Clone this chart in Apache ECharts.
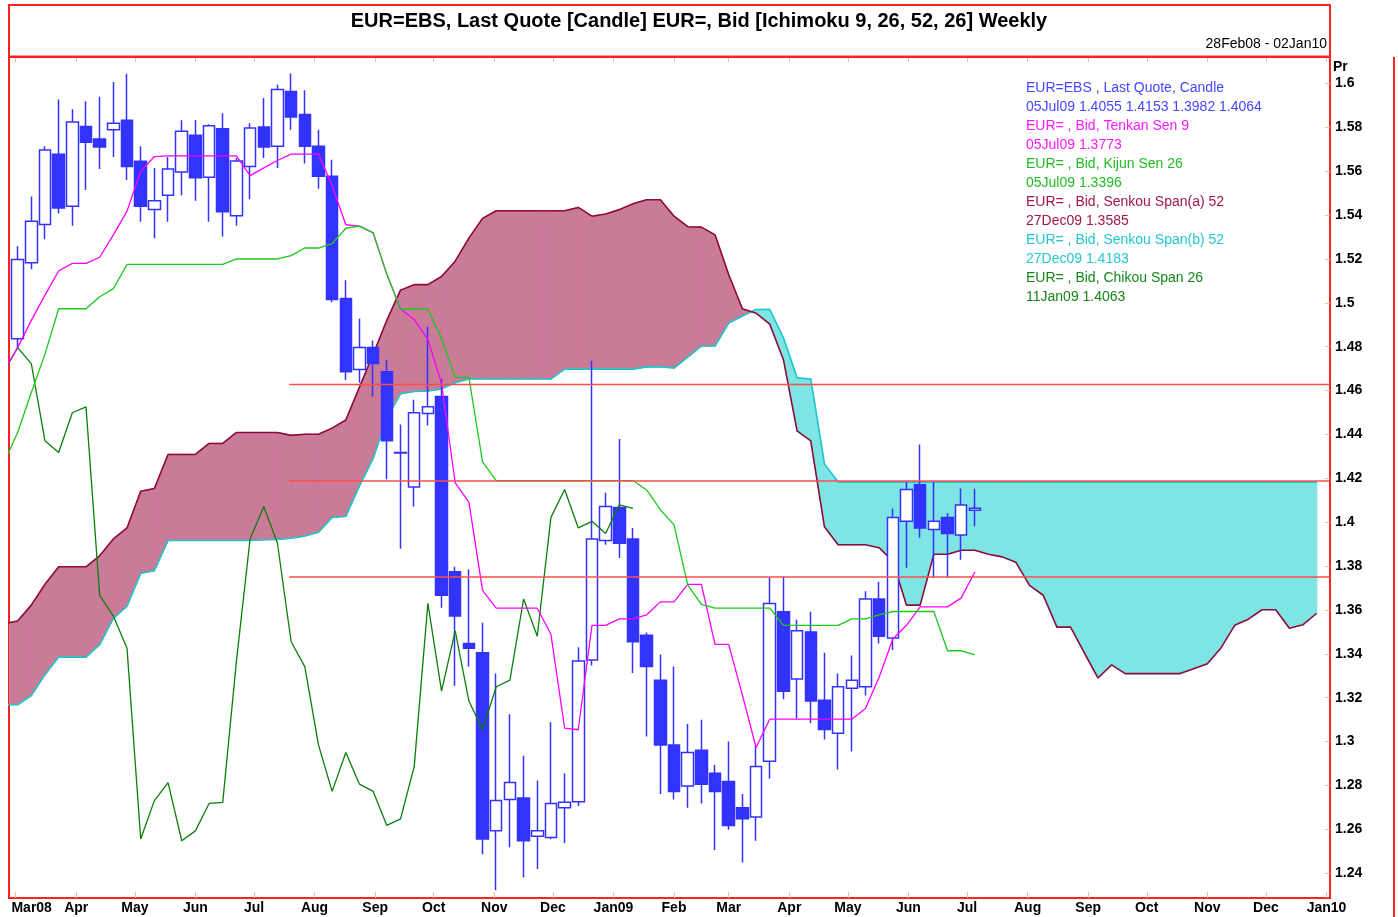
<!DOCTYPE html>
<html>
<head>
<meta charset="utf-8">
<title>EUR Ichimoku Weekly</title>
<script src="https://cdn.jsdelivr.net/npm/echarts@6.0.0/dist/echarts.min.js"></script>
<style>
html, body { margin: 0; padding: 0; background: #ffffff; }
#chart { width: 1398px; height: 917px; }
</style>
</head>
<body>
<div id="chart"></div>
<script>
// ---------------- data ----------------
// Weekly dates: index 0 = Sunday 24 Feb 2008 (week k = -1), 97 weeks up to 27 Dec 2009
const firstWeek = [2008, 1, 24];
const weekCount = 97;

// Candles k = 0 .. 70 (02Mar08 .. 05Jul09)
const candleOpen = [
 1.4836, 1.5183, 1.5357, 1.5677, 1.5440, 1.5804, 1.5747, 1.5789, 1.5832, 1.5645,
 1.5425, 1.5490, 1.5597, 1.5764, 1.5572, 1.5794, 1.5397, 1.5622, 1.5802, 1.5714,
 1.5964, 1.5859, 1.5714, 1.5577, 1.5020, 1.4696, 1.4796, 1.4686, 1.4316, 1.4161,
 1.4496, 1.4573, 1.3774, 1.3447, 1.3405, 1.2593, 1.2736, 1.2743, 1.2568, 1.2563,
 1.2698, 1.2726, 1.3372, 1.3917, 1.4067, 1.3924, 1.3485, 1.3280, 1.2985, 1.2798,
 1.2960, 1.2856, 1.2818, 1.2698, 1.2656, 1.2910, 1.3592, 1.3285, 1.3500, 1.3188,
 1.3038, 1.3243, 1.3250, 1.3650, 1.3472, 1.4004, 1.4171, 1.3967, 1.4022, 1.3942,
 1.4055];
const candleHigh = [
 1.5258, 1.5485, 1.5714, 1.5927, 1.5882, 1.5919, 1.5939, 1.6007, 1.6044, 1.5714,
 1.5615, 1.5665, 1.5832, 1.5834, 1.5814, 1.5864, 1.5660, 1.5819, 1.5934, 1.5994,
 1.6046, 1.5969, 1.5789, 1.5652, 1.5103, 1.4928, 1.4828, 1.4741, 1.4446, 1.4558,
 1.4891, 1.4653, 1.3797, 1.3784, 1.3542, 1.3310, 1.3125, 1.2935, 1.2823, 1.3088,
 1.2856, 1.3430, 1.4736, 1.4134, 1.4379, 1.3974, 1.3497, 1.3397, 1.3342, 1.3080,
 1.3100, 1.2893, 1.3000, 1.2761, 1.2980, 1.3749, 1.3754, 1.3555, 1.3592, 1.3405,
 1.3310, 1.3392, 1.3685, 1.3729, 1.4062, 1.4186, 1.4354, 1.4186, 1.4042, 1.4154,
 1.4153];
const candleLow = [
 1.4791, 1.5153, 1.5290, 1.5407, 1.5352, 1.5515, 1.5610, 1.5665, 1.5560, 1.5370,
 1.5295, 1.5370, 1.5490, 1.5465, 1.5370, 1.5303, 1.5352, 1.5472, 1.5660, 1.5615,
 1.5789, 1.5635, 1.5520, 1.5003, 1.4648, 1.4636, 1.4573, 1.4196, 1.3879, 1.4072,
 1.4441, 1.3610, 1.3255, 1.3342, 1.2486, 1.2322, 1.2518, 1.2381, 1.2419, 1.2555,
 1.2538, 1.2706, 1.3347, 1.3897, 1.3837, 1.3313, 1.3023, 1.2761, 1.2736, 1.2698,
 1.2718, 1.2506, 1.2598, 1.2449, 1.2548, 1.2831, 1.3193, 1.3105, 1.3085, 1.3010,
 1.2873, 1.2955, 1.3210, 1.3447, 1.3417, 1.3792, 1.3929, 1.3747, 1.3747, 1.3829,
 1.3982];
const candleClose = [
 1.5198, 1.5372, 1.5697, 1.5432, 1.5824, 1.5732, 1.5710, 1.5819, 1.5622, 1.5440,
 1.5465, 1.5610, 1.5782, 1.5570, 1.5807, 1.5415, 1.5647, 1.5797, 1.5710, 1.5972,
 1.5847, 1.5714, 1.5577, 1.5015, 1.4686, 1.4796, 1.4723, 1.4371, 1.4318, 1.4499,
 1.4526, 1.3667, 1.3572, 1.3425, 1.2556, 1.2731, 1.2813, 1.2548, 1.2593, 1.2718,
 1.2723, 1.3367, 1.3924, 1.4072, 1.3904, 1.3455, 1.3342, 1.2985, 1.2773, 1.2950,
 1.2806, 1.2773, 1.2618, 1.2648, 1.2886, 1.3630, 1.3230, 1.3505, 1.3185, 1.3055,
 1.3250, 1.3280, 1.3650, 1.3480, 1.4022, 1.4149, 1.3974, 1.4004, 1.3949, 1.4079,
 1.4064];

// Tenkan Sen 9, k = -1 .. 70
const tenkan = [
 1.4691, 1.4796, 1.4920, 1.5035, 1.5145, 1.5180, 1.5180, 1.5208, 1.5310, 1.5418,
 1.5599, 1.5667, 1.5670, 1.5670, 1.5670, 1.5670, 1.5670, 1.5670, 1.5580, 1.5615,
 1.5649, 1.5678, 1.5678, 1.5678, 1.5534, 1.5356, 1.5350, 1.5319, 1.5130, 1.4972,
 1.4924, 1.4834, 1.4631, 1.4179, 1.4092, 1.3689, 1.3608, 1.3608, 1.3608, 1.3608,
 1.3489, 1.3061, 1.3054, 1.3530, 1.3530, 1.3559, 1.3559, 1.3578, 1.3637, 1.3637,
 1.3717, 1.3717, 1.3443, 1.3443, 1.3212, 1.2973, 1.3102, 1.3102, 1.3102, 1.3102,
 1.3102, 1.3102, 1.3102, 1.3151, 1.3293, 1.3468, 1.3530, 1.3614, 1.3614, 1.3614,
 1.3655, 1.3773];

// Kijun Sen 26, k = -1 .. 70
const kijun = [
 1.4271, 1.4409, 1.4591, 1.4766, 1.4973, 1.4973, 1.4973, 1.5028, 1.5065, 1.5175,
 1.5175, 1.5175, 1.5175, 1.5175, 1.5175, 1.5175, 1.5175, 1.5200, 1.5200, 1.5200,
 1.5200, 1.5215, 1.5250, 1.5250, 1.5270, 1.5340, 1.5350, 1.5319, 1.5130, 1.4972,
 1.4972, 1.4972, 1.4837, 1.4660, 1.4660, 1.4275, 1.4190, 1.4190, 1.4190, 1.4190,
 1.4190, 1.4190, 1.4190, 1.4190, 1.4190, 1.4190, 1.4190, 1.4147, 1.4057, 1.3988,
 1.3714, 1.3626, 1.3608, 1.3608, 1.3608, 1.3608, 1.3608, 1.3530, 1.3530, 1.3530,
 1.3530, 1.3530, 1.3559, 1.3559, 1.3578, 1.3593, 1.3593, 1.3593, 1.3593, 1.3414,
 1.3414, 1.3396];

// Chikou Span 26, k = -1 .. 45 (ends 11Jan09)
const chikou = [
 1.4686, 1.4796, 1.4723, 1.4371, 1.4318, 1.4499, 1.4526, 1.3667, 1.3572, 1.3425,
 1.2556, 1.2731, 1.2813, 1.2548, 1.2593, 1.2718, 1.2723, 1.3367, 1.3924, 1.4072,
 1.3904, 1.3455, 1.3342, 1.2985, 1.2773, 1.2950, 1.2806, 1.2773, 1.2618, 1.2648,
 1.2886, 1.3630, 1.3230, 1.3505, 1.3185, 1.3055, 1.3250, 1.3280, 1.3650, 1.3480,
 1.4022, 1.4149, 1.3974, 1.4004, 1.3949, 1.4079, 1.4063];

// Senkou Span (a) 52, k = -1 .. 95 (ends 27Dec09)
const senkouA = [
 1.3537, 1.3550, 1.3622, 1.3717, 1.3797, 1.3797, 1.3797, 1.3847, 1.3924, 1.3974,
 1.4141, 1.4154, 1.4309, 1.4309, 1.4309, 1.4359, 1.4359, 1.4409, 1.4409, 1.4409,
 1.4409, 1.4396, 1.4401, 1.4401, 1.4429, 1.4466, 1.4616, 1.4766, 1.4921, 1.5058,
 1.5083, 1.5083, 1.5120, 1.5190, 1.5295, 1.5385, 1.5420, 1.5420, 1.5420, 1.5420,
 1.5420, 1.5420, 1.5435, 1.5395, 1.5405, 1.5425, 1.5452, 1.5470, 1.5470, 1.5395,
 1.5347, 1.5345, 1.5310, 1.5128, 1.4973, 1.4953, 1.4903, 1.4741, 1.4416, 1.4371,
 1.3979, 1.3897, 1.3897, 1.3897, 1.3884, 1.3822, 1.3622, 1.3622, 1.3854, 1.3854,
 1.3872, 1.3872, 1.3854, 1.3842, 1.3817, 1.3712, 1.3667, 1.3522, 1.3522, 1.3405,
 1.3290, 1.3350, 1.3310, 1.3310, 1.3310, 1.3310, 1.3310, 1.3332, 1.3355, 1.3427,
 1.3530, 1.3558, 1.3601, 1.3601, 1.3517, 1.3533, 1.3585];

// Senkou Span (b) 52, k = -1 .. 95
const senkouB = [
 1.3168, 1.3168, 1.3210, 1.3305, 1.3385, 1.3385, 1.3385, 1.3442, 1.3562, 1.3617,
 1.3767, 1.3779, 1.3917, 1.3917, 1.3917, 1.3917, 1.3917, 1.3917, 1.3917, 1.3920,
 1.3922, 1.3927, 1.3937, 1.3954, 1.4022, 1.4027, 1.4166, 1.4291, 1.4474, 1.4586,
 1.4596, 1.4598, 1.4608, 1.4636, 1.4653, 1.4653, 1.4653, 1.4653, 1.4653, 1.4653,
 1.4653, 1.4698, 1.4698, 1.4698, 1.4698, 1.4698, 1.4698, 1.4708, 1.4708, 1.4703,
 1.4753, 1.4803, 1.4803, 1.4908, 1.4940, 1.4970, 1.4970, 1.4841, 1.4658, 1.4653,
 1.4266, 1.4183, 1.4183, 1.4183, 1.4183, 1.4183, 1.4183, 1.4183, 1.4183, 1.4183,
 1.4183, 1.4183, 1.4183, 1.4183, 1.4183, 1.4183, 1.4183, 1.4183, 1.4183, 1.4183,
 1.4183, 1.4183, 1.4183, 1.4183, 1.4183, 1.4183, 1.4183, 1.4183, 1.4183, 1.4183,
 1.4183, 1.4183, 1.4183, 1.4183, 1.4183, 1.4183, 1.4183];

// Horizontal user lines
const levelValues = [1.4628, 1.4188, 1.3750];
const levelStart = [2008, 6, 19];

// Axis labels
const monthLabels = ['Mar08', 'Apr', 'May', 'Jun', 'Jul', 'Aug', 'Sep', 'Oct', 'Nov', 'Dec',
  'Jan09', 'Feb', 'Mar', 'Apr', 'May', 'Jun', 'Jul', 'Aug', 'Sep', 'Oct', 'Nov', 'Dec', 'Jan10'];
const yTicks = [1.24, 1.26, 1.28, 1.30, 1.32, 1.34, 1.36, 1.38, 1.40, 1.42, 1.44, 1.46,
  1.48, 1.50, 1.52, 1.54, 1.56, 1.58, 1.60];

const titleText = 'EUR=EBS, Last Quote [Candle] EUR=, Bid [Ichimoku 9, 26, 52, 26] Weekly';
const rangeText = '28Feb08 - 02Jan10';

// ---------------- checks ----------------
[[candleOpen, 71], [candleHigh, 71], [candleLow, 71], [candleClose, 71], [tenkan, 72], [kijun, 72],
 [chikou, 47], [senkouA, 97], [senkouB, 97]].forEach(function (p, i) {
  if (p[0].length !== p[1]) throw new Error('array ' + i + ' length ' + p[0].length + ' != ' + p[1]);
});

// ---------------- build ----------------
const FONT = '"Liberation Sans", Arial, Helvetica, sans-serif';
const COL = {
  candle: '#3333ff', tenkan: '#ff00ff', kijun: '#1cc81c', chikou: '#0b7f0b',
  spanA: '#8e0c3d', spanB: '#1ec6ce', fillA: '#c97b97', fillB: '#7ee4e4',
  lvl: '#ff4d4d', frame: '#ff2020', tick: '#f6c08e'
};
const MON = ['Jan', 'Feb', 'Mar', 'Apr', 'May', 'Jun', 'Jul', 'Aug', 'Sep', 'Oct', 'Nov', 'Dec'];

const weeks = [];
for (let i = 0; i < weekCount; i++) {
  weeks.push(new Date(firstWeek[0], firstWeek[1], firstWeek[2] + 7 * i).getTime());
}
const at = function (k) { return weeks[k + 1]; };
function fmtDate(t) {
  const d = new Date(t);
  return String(d.getDate()).padStart(2, '0') + MON[d.getMonth()] + String(d.getFullYear()).slice(2);
}

const xMin = new Date(2008, 1, 26, 14).getTime();
const xMax = new Date(2010, 0, 2, 19).getTime();
const monthTicks = monthLabels.map(function (_, i) { return new Date(2008, 2 + i, 1).getTime(); });

const candleData = candleOpen.map(function (o, k) {
  return [at(k), o, candleClose[k], candleLow[k], candleHigh[k]];
});
const lineData = function (arr) { return arr.map(function (v, i) { return [weeks[i], v]; }); };
const cloudData = [];
for (let i = 0; i < senkouA.length - 1; i++) {
  cloudData.push([weeks[i], senkouA[i], senkouB[i], weeks[i + 1], senkouA[i + 1], senkouB[i + 1]]);
}
const levelT0 = new Date(levelStart[0], levelStart[1], levelStart[2]).getTime();

const lastK = candleOpen.length - 1;
const legendRows = [
  ['b', 'EUR=EBS , Last Quote, Candle'],
  ['b', fmtDate(at(lastK)) + ' ' + [candleOpen[lastK], candleHigh[lastK], candleLow[lastK], candleClose[lastK]]
    .map(function (v) { return v.toFixed(4); }).join(' ')],
  ['m', 'EUR= , Bid, Tenkan Sen 9'],
  ['m', fmtDate(weeks[tenkan.length - 1]) + ' ' + tenkan[tenkan.length - 1].toFixed(4)],
  ['g', 'EUR= , Bid, Kijun Sen 26'],
  ['g', fmtDate(weeks[kijun.length - 1]) + ' ' + kijun[kijun.length - 1].toFixed(4)],
  ['r', 'EUR= , Bid, Senkou Span(a) 52'],
  ['r', fmtDate(weeks[senkouA.length - 1]) + ' ' + senkouA[senkouA.length - 1].toFixed(4)],
  ['c', 'EUR= , Bid, Senkou Span(b) 52'],
  ['c', fmtDate(weeks[senkouB.length - 1]) + ' ' + senkouB[senkouB.length - 1].toFixed(4)],
  ['d', 'EUR= , Bid, Chikou Span 26'],
  ['d', fmtDate(weeks[chikou.length - 1]) + ' ' + chikou[chikou.length - 1].toFixed(4)]
];
const legendStyle = function (c) {
  return { color: c, fontSize: 14, lineHeight: 19, fontFamily: FONT, fontWeight: 'normal' };
};

function monthLabelOf(v) {
  const d = new Date(v);
  const idx = (d.getFullYear() - 2008) * 12 + d.getMonth() - 2;
  const s = monthLabels[idx] || '';
  return idx === 0 ? '{first|' + s + '}' : s;
}

const chart = echarts.init(document.getElementById('chart'), null, { renderer: 'canvas' });

const option = {
  animation: false,
  backgroundColor: '#ffffff',
  textStyle: { fontFamily: FONT },
  title: [
    { text: titleText, left: 'center', top: 6,
      textStyle: { fontFamily: FONT, fontWeight: 'bold', fontSize: 20, color: '#000' } },
    { text: rangeText, right: 66, top: 32,
      textStyle: { fontFamily: FONT, fontWeight: 'normal', fontSize: 14, color: '#000' } },
    { text: legendRows.map(function (r) { return '{' + r[0] + '|' + r[1] + '}'; }).join('\n'),
      left: 1026, top: 79, padding: 0,
      textStyle: { fontFamily: FONT, fontSize: 14, lineHeight: 19, fontWeight: 'normal',
        rich: { b: legendStyle('#4747ff'), m: legendStyle('#ff1aff'), g: legendStyle('#22bb22'),
                r: legendStyle('#a3174a'), c: legendStyle('#26c6cf'), d: legendStyle('#17861a') } } }
  ],
  graphic: [
    { type: 'rect', silent: true, z: 100,
      shape: { x: 9, y: 5, width: 1321, height: 52 },
      style: { fill: 'none', stroke: COL.frame, lineWidth: 2 } },
    { type: 'line', silent: true, z: 100,
      shape: { x1: 1394, y1: 57, x2: 1394, y2: 930 },
      style: { stroke: COL.frame, lineWidth: 2 } }
  ],
  grid: { left: 9, right: 68, top: 56.5, bottom: 19, show: true, borderColor: COL.frame, borderWidth: 2,
          backgroundColor: 'transparent' },
  xAxis: [
    { type: 'value', min: xMin, max: xMax, position: 'bottom', scale: true,
      splitLine: { show: false }, axisLine: { show: false },
      axisTick: { show: true, inside: true, length: 6, customValues: monthTicks,
                  lineStyle: { color: COL.tick, width: 1 } },
      axisLabel: { show: true, customValues: monthTicks, margin: 3, color: '#000',
                   fontFamily: FONT, fontWeight: 'bold', fontSize: 14, hideOverlap: false,
                   formatter: monthLabelOf,
                   rich: { first: { padding: [0, 0, 0, 32], fontFamily: FONT, fontWeight: 'bold',
                                    fontSize: 14, color: '#000' } } } },
    { type: 'value', min: xMin, max: xMax, position: 'top', scale: true,
      splitLine: { show: false }, axisLine: { show: false },
      axisTick: { show: true, inside: true, length: 6, customValues: monthTicks,
                  lineStyle: { color: COL.tick, width: 1 } },
      axisLabel: { show: false } }
  ],
  yAxis: {
    type: 'value', position: 'right', min: 1.2287, max: 1.6123, scale: true,
    name: 'Pr', nameLocation: 'end', nameGap: -10.5,
    nameTextStyle: { fontFamily: FONT, fontWeight: 'bold', fontSize: 14, color: '#000',
                     align: 'left', verticalAlign: 'middle', padding: [0, 0, 0, 3] },
    splitLine: { show: false }, axisLine: { show: false },
    axisTick: { show: true, inside: true, length: 5, customValues: yTicks,
                lineStyle: { color: COL.tick, width: 1 } },
    axisLabel: { customValues: yTicks, margin: 5, color: '#000', fontFamily: FONT,
                 fontWeight: 'bold', fontSize: 14, align: 'left',
                 formatter: function (v) { return String(+(+v).toFixed(2)); } }
  },
  series: [
    { name: 'cloud', type: 'custom', clip: true, z: 1, silent: true,
      data: cloudData, encode: { x: [0, 3], y: [1, 2, 4, 5] },
      renderItem: function (params, api) {
        const t0 = api.value(0), a0 = api.value(1), b0 = api.value(2);
        const t1 = api.value(3), a1 = api.value(4), b1 = api.value(5);
        const A0 = api.coord([t0, a0]), B0 = api.coord([t0, b0]);
        const A1 = api.coord([t1, a1]), B1 = api.coord([t1, b1]);
        const d0 = a0 - b0, d1 = a1 - b1;
        const poly = function (pts, col) {
          return { type: 'polygon', shape: { points: pts },
                   style: { fill: col, stroke: col, lineWidth: 1.2, lineJoin: 'round' } };
        };
        const children = [];
        if (d0 * d1 >= 0) {
          children.push(poly([A0, A1, B1, B0], (d0 + d1) >= 0 ? COL.fillA : COL.fillB));
        } else {
          const f = d0 / (d0 - d1);
          const X = [A0[0] + (A1[0] - A0[0]) * f, A0[1] + (A1[1] - A0[1]) * f];
          children.push(poly([A0, X, B0], d0 > 0 ? COL.fillA : COL.fillB));
          children.push(poly([X, A1, B1], d1 > 0 ? COL.fillA : COL.fillB));
        }
        return { type: 'group', children: children };
      } },
    { name: 'Senkou Span(b) 52', type: 'line', z: 2, data: lineData(senkouB),
      symbol: 'none', lineStyle: { color: COL.spanB, width: 1.6 }, silent: true },
    { name: 'Senkou Span(a) 52', type: 'line', z: 2, data: lineData(senkouA),
      symbol: 'none', lineStyle: { color: COL.spanA, width: 1.6 }, silent: true },
    { name: 'EUR=EBS', type: 'candlestick', z: 3, data: candleData, barWidth: 12,
      itemStyle: { color: '#ffffff', color0: COL.candle, borderColor: COL.candle,
                   borderColor0: COL.candle, borderWidth: 1.5 } },
    { name: 'Chikou Span 26', type: 'line', z: 4, data: lineData(chikou), symbol: 'none',
      lineStyle: { color: COL.chikou, width: 1.3 }, silent: true },
    { name: 'Tenkan Sen 9', type: 'line', z: 4, data: lineData(tenkan), symbol: 'none',
      lineStyle: { color: COL.tenkan, width: 1.3 }, silent: true },
    { name: 'Kijun Sen 26', type: 'line', z: 4, data: lineData(kijun), symbol: 'none',
      lineStyle: { color: COL.kijun, width: 1.3 }, silent: true }
  ].concat(levelValues.map(function (v, i) {
    return { name: 'level' + i, type: 'line', z: 5, symbol: 'none', silent: true,
             data: [[levelT0, v], [xMax, v]], lineStyle: { color: COL.lvl, width: 1.4 } };
  }))
};

chart.setOption(option);
</script>
</body>
</html>
